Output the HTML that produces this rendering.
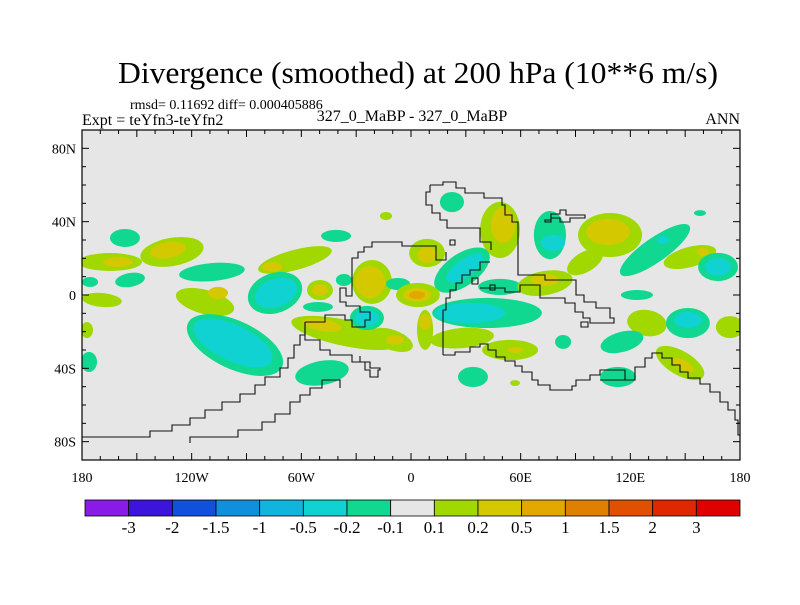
<!DOCTYPE html>
<html><head><meta charset="utf-8"><style>
body{margin:0;background:#fff;}
svg text{font-family:"Liberation Serif",serif;fill:#000;}
</style></head><body>
<svg id="chart" width="800" height="600" viewBox="0 0 800 600" xmlns="http://www.w3.org/2000/svg">
<rect width="800" height="600" fill="#fff"/>
<text x="418" y="83" font-size="31" text-anchor="middle" textLength="600" lengthAdjust="spacingAndGlyphs">Divergence (smoothed) at 200 hPa (10**6 m/s)</text>
<text x="130" y="109" font-size="14">rmsd= 0.11692 diff= 0.000405886</text>
<text x="82" y="125" font-size="16">Expt = teYfn3-teYfn2</text>
<text x="412" y="121" font-size="16" text-anchor="middle">327_0_MaBP - 327_0_MaBP</text>
<text x="740" y="124" font-size="16" text-anchor="end">ANN</text>
<clipPath id="clip"><rect x="82" y="130" width="658" height="330"/></clipPath>
<rect x="82" y="130" width="658" height="330" fill="#e6e6e6"/>
<g id="fields" clip-path="url(#clip)"></g>
<g id="coast" clip-path="url(#clip)" fill="none" stroke="#111" stroke-width="1.1">
<path d="M82,437 L150,437 L150,431 L172,431 L172,425 L190,425 L190,418 L205,418 L205,410 L222,410 L222,402 L240,402 L240,394 L255,394 L255,385 L265,385 L265,377 L280,377 L280,368 L288,368 L288,358 L294,358 L294,345 L300,345 L300,335 L305,335 L305,322"/>
<path d="M190,443 L190,437 L238,437 L238,430 L262,430 L262,422 L275,422 L275,414 L290,414 L290,402 L300,402 L300,395 L310,395 L310,388 L322,388 L322,380 L340,380 L340,388"/>
<path d="M305,322 L305,340 L320,340 L320,350 L330,350 L330,355 L352,355 L352,362 L365,362 L365,370 L370,370 L370,377 L378,377 L378,370 L380,370 L380,368 L370,368 L370,362 L360,362 L360,356"/>
<path d="M305,322 L325,322 L325,315 L345,315 L345,320 L352,320 L352,327 L365,327 L365,320 L370,320 L370,312 L360,312 L360,306 L346,306 L346,302 L340,302 L340,288 L346,288 L346,296 L352,296 L352,258 L358,258 L358,252 L364,252 L364,247 L372,247 L372,242 L402,242 L402,246 L436,246 L436,260 L446,260 L446,252"/>
<path d="M430,185 L443,185 L443,182 L456,182 L456,188 L465,188 L465,193 L484,193 L484,198 L502,198 L502,205 L505,205 L505,215 L512,215 L512,222 L518,222 L518,275 L545,275 L545,280 L576,280 L576,295 L584,295 L584,302 L596,302 L596,308 L610,308 L610,318 L614,318 L614,323 L590,323 L590,318 L583,318 L583,312 L575,312 L575,303 L565,303 L565,298 L540,298 L540,285 L520,285 L520,292 L505,292 L505,288 L480,288"/>
<path d="M430,185 L430,192 L426,192 L426,205 L432,205 L432,213 L440,213 L440,220 L447,220 L447,228 L480,228 L480,242 L491,242 L491,250"/>
<path d="M443,355 L443,310 L446,310 L446,298 L450,298 L450,290 L456,290 L456,283 L462,283 L462,275 L470,275 L470,270 L480,270 L480,262 L490,262"/>
<path d="M443,355 L455,355 L455,352 L470,352 L470,347 L480,347 L480,344 L488,344 L488,350 L496,350 L496,357 L505,357 L505,361 L515,361 L515,366 L522,366 L522,372 L532,372 L532,380 L538,380 L538,385 L550,385 L550,390 L572,390 L572,386 L576,386 L576,380 L590,380 L590,375 L600,375 L600,370 L625,370 L625,380 L635,380 L635,367 L645,367 L645,358 L652,358 L652,353 L662,353 L662,358 L672,358 L672,365 L680,365 L680,372 L688,372 L688,378 L700,378 L700,384 L710,384 L710,392 L720,392 L720,402 L728,402 L728,410 L735,410 L735,420 L738,420 L738,435 L740,435"/>
<path d="M600,380 L635,380"/>
<path d="M450,240 L455,240 L455,245 L450,245 Z M472,278 L478,278 L478,284 L472,284 Z M490,285 L495,285 L495,290 L490,290 Z M581,322 L588,322 L588,327 L581,327 Z"/>
<path d="M545,220 L551,220 L551,214 L560,214 L560,210 L566,210 L566,215 L585,215 L585,218 L570,218 L570,222 L560,222 L560,218 L551,218 L551,222 L545,222 Z"/>
</g>
<rect x="82" y="130" width="658" height="330" fill="none" stroke="#000" stroke-width="1.2"/>
<g id="axes"></g>
<g id="colorbar"></g>
</svg>
<script>
const NS="http://www.w3.org/2000/svg";
const levelColors=["#8a1ae6","#3c14dc","#1050dc","#1090dc","#10b4dc","#10d2d2","#10d890","#e6e6e6","#a0d800","#d4c800","#e2a800","#e08000","#e05000","#e02800","#e00000"];
const levelLabels=["-3","-2","-1.5","-1","-0.5","-0.2","-0.1","0.1","0.2","0.5","1","1.5","2","3"];
const lonTicks=[-180,-120,-60,0,60,120,180];
const lonLabels=["180","120W","60W","0","60E","120E","180"];
const latTicks=[80,40,0,-40,-80];
const latLabels=["80N","40N","0","40S","80S"];
// anomaly features: lon, lat, half-width (deg lon), half-height (deg lat), rotation, level index
const fLon=[-156.5,-130.8,-133,-164.7,-160.3,-108.9,-153.7,-175.6,-169.1,-112.7,-105.6,-63.5,-76,-74.4,-73.9,-49.8,-49.8,-50.9,-41,-13.7,-36.7,-96.3,-97.4,-176.2,-177.3,-36.1,-48.7,-48.7,-21.3,-22.4,-24.1,-24.1,-10.4,-8.8,-7.1,7.7,7.7,22.4,48.7,50.3,8.8,8.8,27.9,29.5,3.8,3.3,3.3,41.6,32.3,48.7,73.3,73.3,27.9,54.2,56.9,76,77.7,108.9,95.2,107.8,133.5,137.9,152.6,159.7,168,168,123.6,129.1,151.5,151.5,174.5,115.4,83.2,147.2,148.8,113.2,33.9,56.9,158.1];
const fLat=[31.1,23.5,24.5,18,18,12.5,8.2,7.1,-2.7,-3.8,1.1,19.1,15.3,1.1,1.1,2.7,2.7,-6.5,32.2,43.1,8.2,-27.3,-26.2,-36.5,-19.1,-20.7,-16.4,-42.5,7.1,7.1,-12.5,-12.5,-24.5,-24.5,6,-19,-14.7,50.7,35.5,38.2,22.9,21.8,13.6,14.7,0,0,0,-9.8,-9.8,4.4,6.5,8.2,-23.5,-30,-30,32.7,28.4,32.7,18,34.4,24.5,30,20.7,23.5,15.3,15.3,0,-15.3,-15.3,-13.6,-17.5,-25.6,-25.6,-37.1,-38.2,-44.7,-44.7,-48,44.7];
const fRx=[8.2,17.5,9.8,17.5,8.2,18,8.2,4.4,10.9,16.4,5.5,20.8,5.5,15.3,12,7.1,4.4,8.2,8.2,3.3,4.4,28.4,23.5,4.4,3.3,30,10.9,14.8,10.9,8.2,9.3,6.6,12,4.9,6.6,4.4,3.3,6.6,10.9,6.6,9.8,5.5,17.5,12,12,7.7,4.4,30,19.1,12,15.3,7.7,17.5,15.3,4.4,8.8,6.6,17.5,10.9,12,23,3.3,14.8,3.3,10.9,7.1,8.8,10.9,12,7.7,7.7,12,4.4,14.8,6.6,9.8,8.2,2.7,3.3];
const fRy=[4.9,7.7,4.4,4.9,2.7,4.9,3.8,2.7,3.8,6.6,3.3,5.5,2.7,10.9,7.7,5.5,3.3,2.7,3.3,2.2,3.3,13.1,9.8,5.5,4.4,7.1,3.3,6.6,12,8.8,6.6,4.4,5.5,2.7,3.3,10.9,4.4,5.5,15.3,9.8,7.7,4.4,8.8,4.9,6.6,3.8,2.2,8.2,5.5,4.4,6.6,3.3,5.5,5.5,1.6,13.1,4.4,12,5.5,7.1,6.6,2.2,5.5,2.2,7.7,4.9,2.7,7.1,8.2,4.4,6,5.5,3.8,6.6,2.7,5.5,5.5,1.6,1.6];
const fRot=[0,-10,-10,0,0,-5,-10,0,5,15,0,-15,0,-20,-20,0,0,0,0,0,0,25,25,0,0,12,10,-10,0,0,0,0,20,0,0,0,0,0,0,0,0,0,-35,-35,0,0,0,0,0,0,-10,0,-5,0,0,0,0,0,-30,0,-35,0,-15,0,0,0,0,10,0,0,0,-15,0,30,30,0,0,0,0];
const fLev=[6,8,9,8,9,6,6,6,8,8,9,8,9,6,5,8,9,6,6,8,6,6,5,6,8,8,9,6,8,9,6,5,8,9,6,8,9,6,8,9,8,9,6,5,8,9,10,6,5,6,8,9,8,8,9,6,5,8,8,9,6,5,8,9,6,5,6,8,6,5,8,6,6,8,9,6,6,8,6];
const X0=82,X1=740,Y0=130,Y1=460;
function xs(lon){return X0+(lon+180)/360*(X1-X0);}
function ys(lat){return Y0+(90-lat)/180*(Y1-Y0);}
const rank={6:0,8:0,5:1,9:1,10:2};
const order=fLon.map((_,i)=>i).sort((a,b)=>(rank[fLev[a]]-rank[fLev[b]])||(a-b));
const g=document.getElementById('fields');
order.forEach(i=>{
  const e=document.createElementNS(NS,'ellipse');
  const cx=xs(fLon[i]),cy=ys(fLat[i]);
  e.setAttribute('cx',cx);e.setAttribute('cy',cy);
  e.setAttribute('rx',fRx[i]/360*(X1-X0));
  e.setAttribute('ry',fRy[i]/180*(Y1-Y0));
  e.setAttribute('transform','rotate('+fRot[i]+' '+cx+' '+cy+')');
  e.setAttribute('fill',levelColors[fLev[i]]);
  
  
  g.appendChild(e);
});
const ax=document.getElementById('axes');
function line(x1,y1,x2,y2,name){const l=document.createElementNS(NS,'line');l.setAttribute('x1',x1);l.setAttribute('y1',y1);l.setAttribute('x2',x2);l.setAttribute('y2',y2);l.setAttribute('stroke','#000');l.setAttribute('stroke-width','1');


ax.appendChild(l);}
function text(x,y,s,anchor,size,name){const t=document.createElementNS(NS,'text');t.setAttribute('x',x);t.setAttribute('y',y);t.setAttribute('text-anchor',anchor);t.setAttribute('font-size',size);t.textContent=s;


ax.appendChild(t);}
for(let lon=-180;lon<=180;lon+=10){const x=xs(lon);const L=lon%30===0?7:4;line(x,Y0,x,Y0+L,'x-tick');line(x,Y1,x,Y1-L,'x-tick');}
for(let lat=-90;lat<=90;lat+=10){const y=ys(lat);const L=lat%40===0?7:4;line(X0,y,X0+L,y,'y-tick');line(X1,y,X1-L,y,'y-tick');}
lonTicks.forEach((v,i)=>text(xs(v),482,lonLabels[i],'middle',14,'x-tick-label'));
latTicks.forEach((v,i)=>text(76,ys(v)+5,latLabels[i],'end',14,'y-tick-label'));
const cb=document.getElementById('colorbar');
const CB0=85,CB1=740,n=levelColors.length,w=(CB1-CB0)/n;
levelColors.forEach((c,i)=>{const r=document.createElementNS(NS,'rect');r.setAttribute('x',CB0+i*w);r.setAttribute('y',500);r.setAttribute('width',w);r.setAttribute('height',16);r.setAttribute('fill',c);r.setAttribute('stroke','#000');r.setAttribute('stroke-width','0.8');


cb.appendChild(r);});
levelLabels.forEach((s,i)=>{const t=document.createElementNS(NS,'text');t.setAttribute('x',CB0+(i+1)*w);t.setAttribute('y',533);t.setAttribute('text-anchor','middle');t.setAttribute('font-size',17);t.textContent=s;


cb.appendChild(t);});
</script>
</body></html>
